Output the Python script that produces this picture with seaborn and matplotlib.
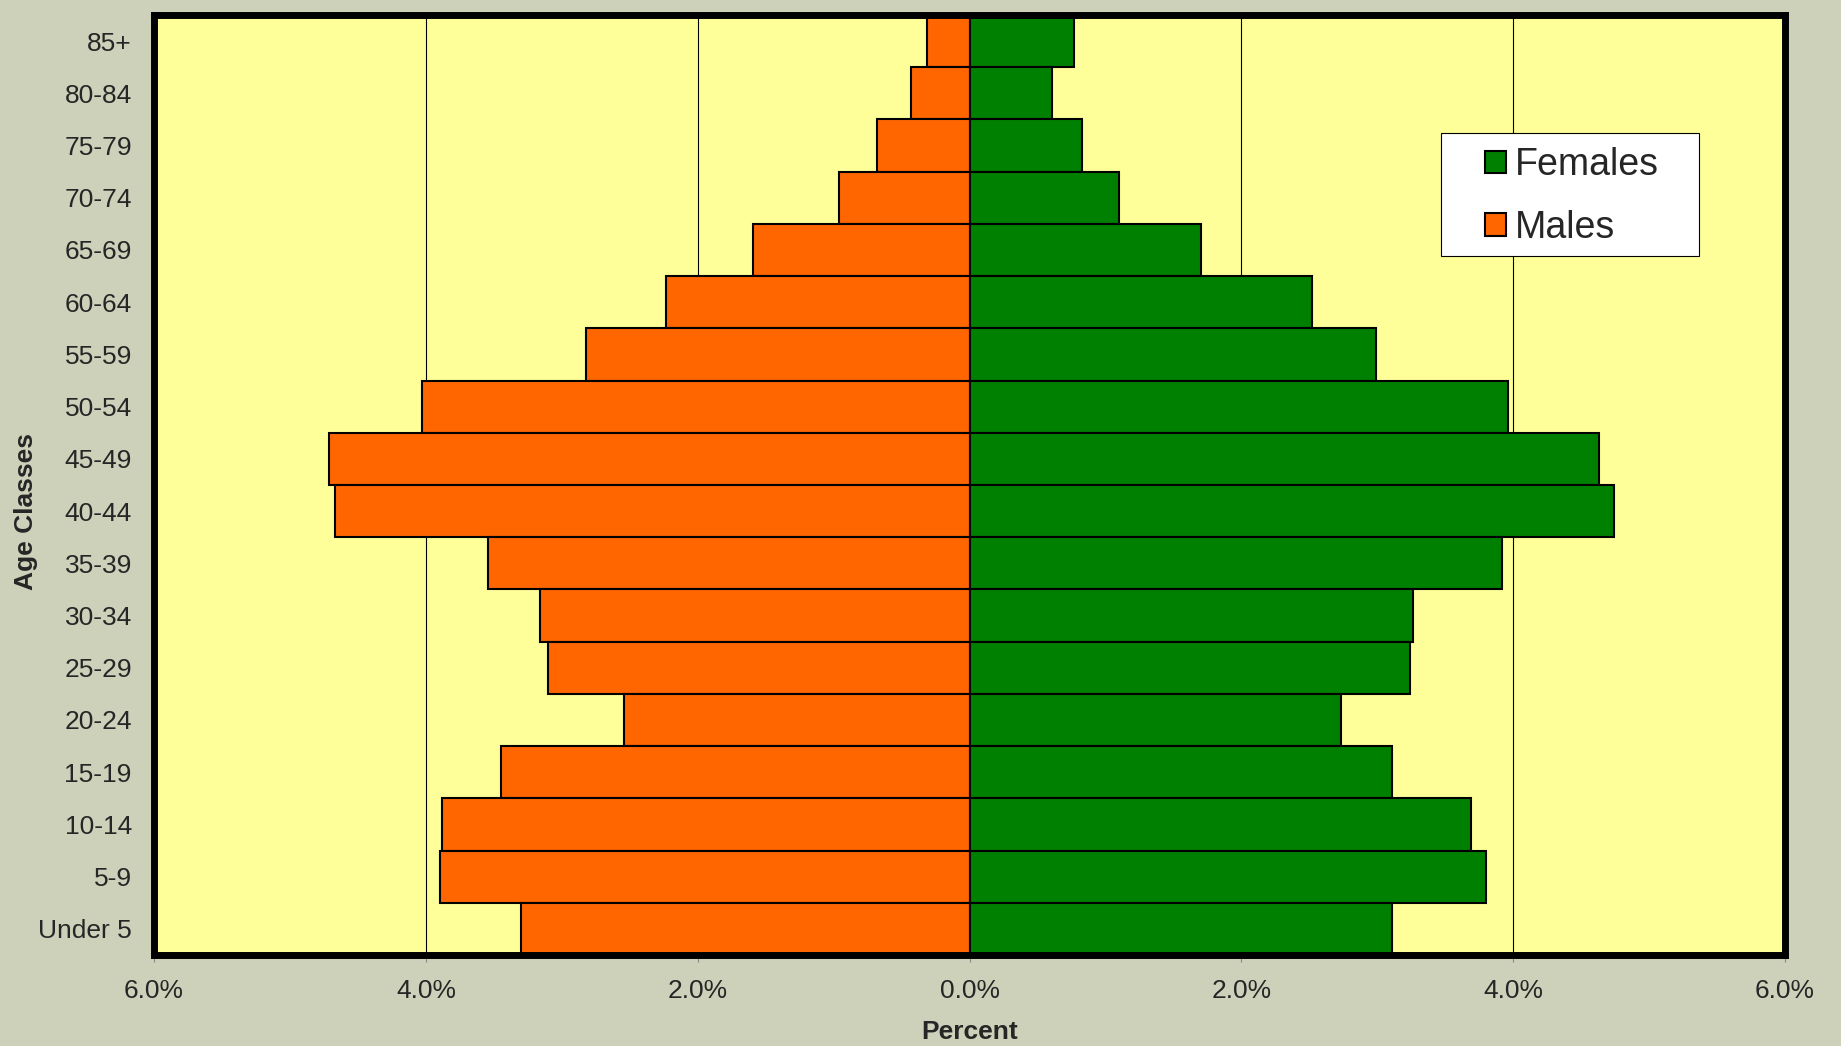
import matplotlib
matplotlib.use("Agg")
import matplotlib.pyplot as plt
import seaborn as sns
import pandas as pd
import numpy as np
from matplotlib.patches import Patch, Rectangle
from matplotlib.ticker import FuncFormatter

age_classes = ["85+", "80-84", "75-79", "70-74", "65-69", "60-64", "55-59", "50-54",
               "45-49", "40-44", "35-39", "30-34", "25-29", "20-24", "15-19",
               "10-14", "5-9", "Under 5"]
males = [0.31, 0.43, 0.68, 0.96, 1.59, 2.23, 2.82, 4.03, 4.71, 4.67, 3.54, 3.16,
         3.10, 2.54, 3.45, 3.88, 3.90, 3.30]
females = [0.77, 0.61, 0.83, 1.10, 1.70, 2.52, 2.99, 3.96, 4.63, 4.74, 3.92, 3.26,
           3.24, 2.73, 3.11, 3.69, 3.80, 3.11]
x_ticks = [-6, -4, -2, 0, 2, 4, 6]

FIG_BG = "#CDD1BA"
AX_BG = "#FFFF99"
ORANGE = "#FF6600"
GREEN = "#008000"

sns.set_theme(style="white")
plt.rcParams["font.family"] = ["Liberation Sans", "DejaVu Sans"]

df = pd.DataFrame({"age": age_classes,
                   "males": [-v for v in males],
                   "females": females})

fig = plt.figure(figsize=(18.41, 10.46), dpi=100, facecolor=FIG_BG)
ax = fig.add_axes([0.0837, 0.087, 0.9696 - 0.0837, 0.9857 - 0.087])
ax.set_facecolor(AX_BG)

sns.barplot(data=df, x="males", y="age", order=age_classes, color=ORANGE,
            width=1.0, edgecolor="black", linewidth=1.5, saturation=1, ax=ax, zorder=3)
sns.barplot(data=df, x="females", y="age", order=age_classes, color=GREEN,
            width=1.0, edgecolor="black", linewidth=1.5, saturation=1, ax=ax, zorder=3)

ax.set_xlim(-6, 6)
ax.set_ylim(len(age_classes) - 0.5, -0.5)
ax.set_xticks(x_ticks)
ax.xaxis.set_major_formatter(FuncFormatter(lambda v, p: f"{abs(v):.1f}%"))

for v in [-4, -2, 2, 4]:
    ax.axvline(v, color="black", linewidth=0.8, zorder=1)

for s in ax.spines.values():
    s.set_visible(True)
    s.set_color("black")
    s.set_linewidth(5)
    s.set_zorder(5)

ax.tick_params(axis="x", which="both", bottom=True, length=5, width=0.8,
               color="#888888", labelsize=19, pad=12, direction="out")
ax.tick_params(axis="y", length=0, labelsize=19, pad=16)

ax.set_xlabel("Percent", fontsize=19, fontweight="bold")
ax.set_ylabel("Age Classes", fontsize=19, fontweight="bold")
ax.xaxis.set_label_coords(0.5, -0.0815)
ax.xaxis.label.set_va("center")
ax.yaxis.set_label_coords(-0.0785, 0.4723)
ax.yaxis.label.set_va("center")

# legend box
ax.add_patch(Rectangle((0.789, 0.744), 0.947 - 0.789, 0.8745 - 0.744,
                       transform=ax.transAxes, facecolor="white", edgecolor="black",
                       linewidth=0.8, zorder=9))

handles = [Patch(facecolor=GREEN, edgecolor="black", linewidth=1.5, label="Females"),
           Patch(facecolor=ORANGE, edgecolor="black", linewidth=1.5, label="Males")]
leg = ax.legend(handles=handles, loc="center left", bbox_to_anchor=(0.8160, 0.8070),
                fontsize=27, frameon=False, handlelength=0.55,
                handleheight=0.55, handletextpad=0.25, borderpad=0,
                labelspacing=0.71, borderaxespad=0)
leg.set_zorder(10)

fig.savefig("out.png", dpi=100, facecolor=FIG_BG)
